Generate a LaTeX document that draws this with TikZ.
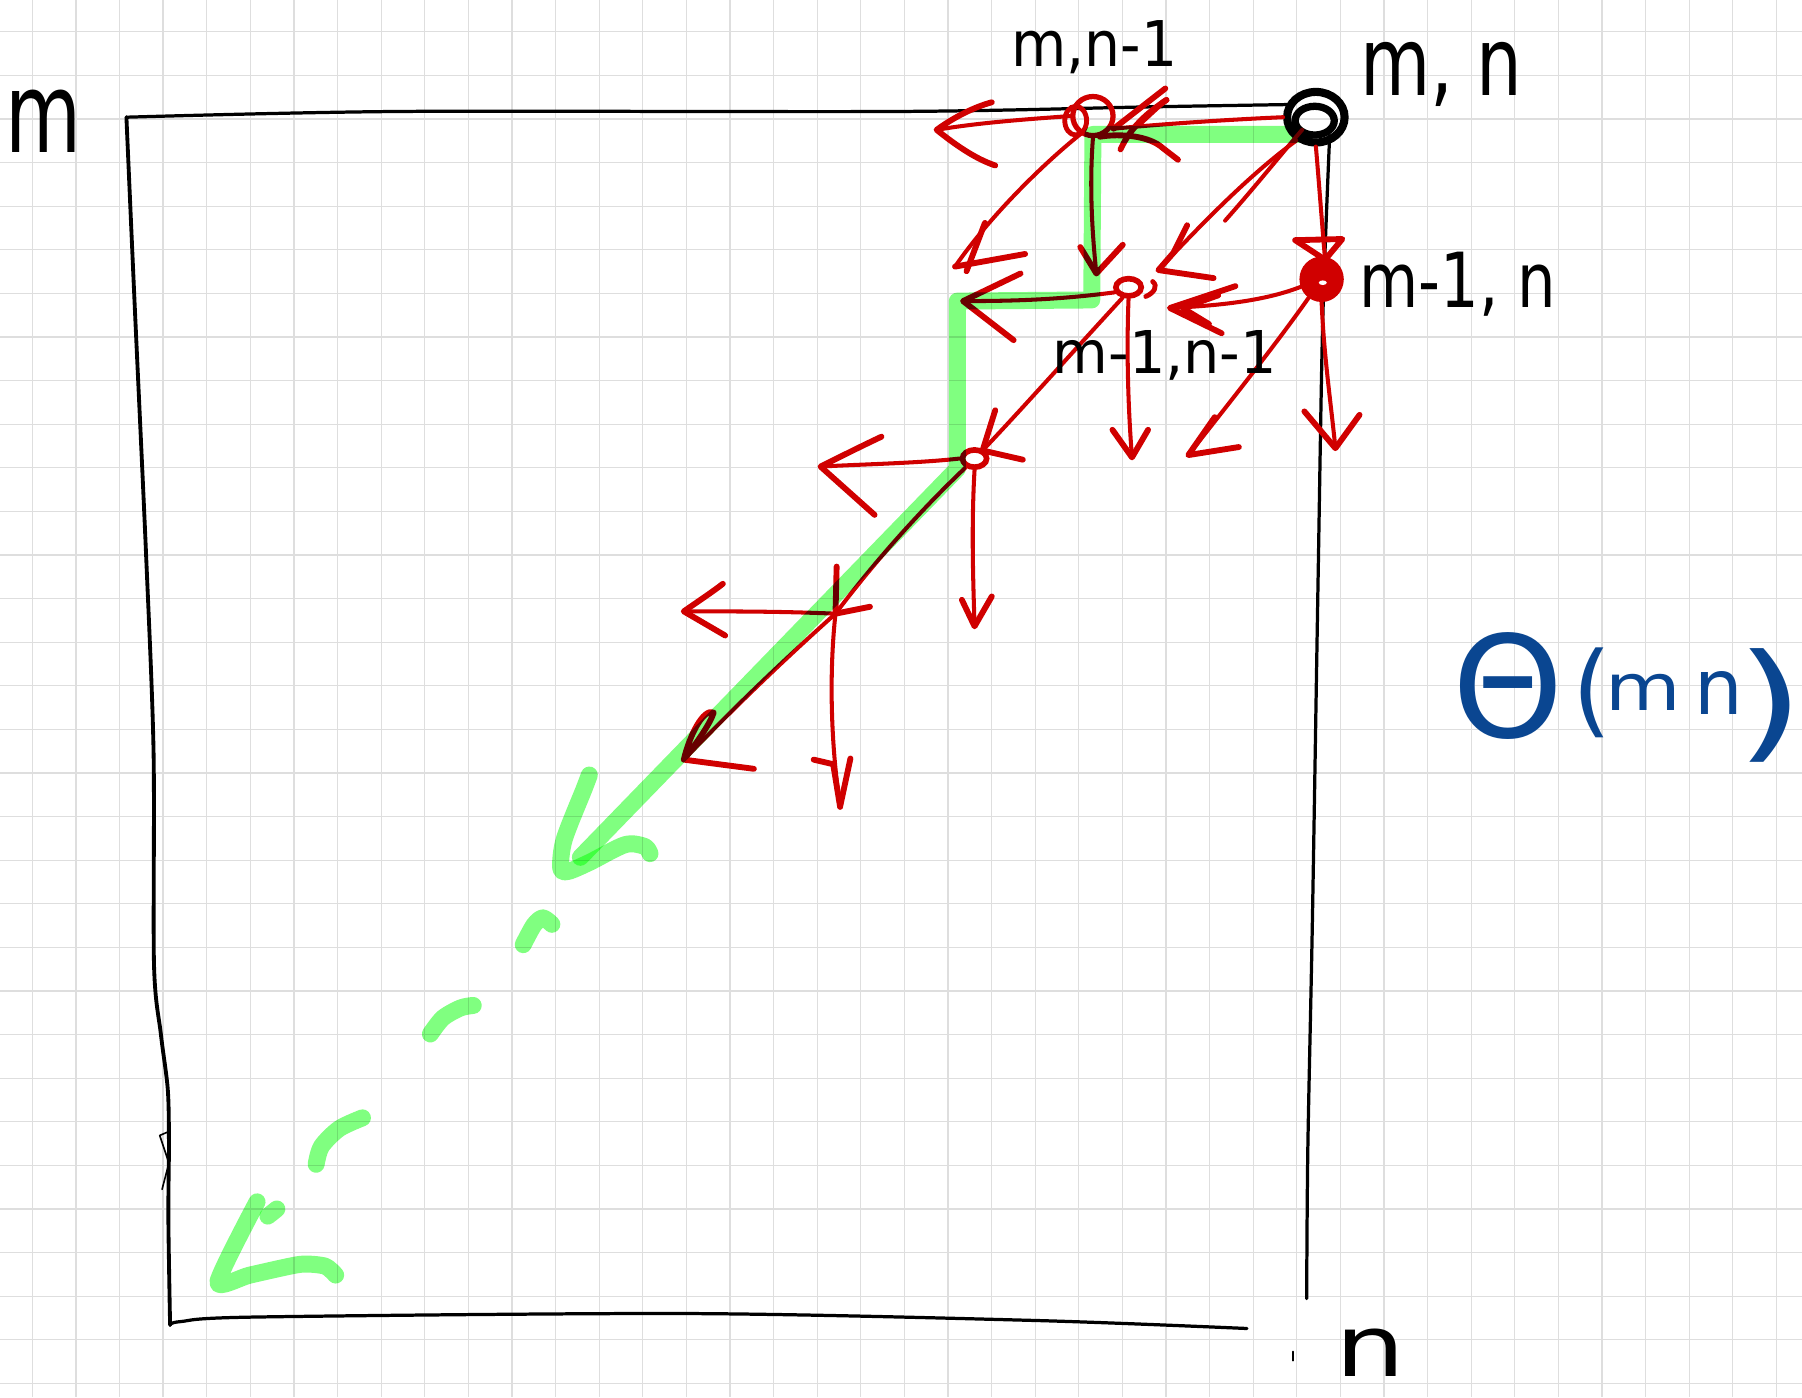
\documentclass[tikz,border=0pt]{standalone}
\usepackage{fontspec}
\setmainfont{DejaVu Sans}
\usetikzlibrary{shapes.geometric}
\definecolor{pen}{RGB}{208,0,0}
\definecolor{hl}{RGB}{128,255,128}
\definecolor{ink}{RGB}{10,70,145}
\definecolor{gridc}{RGB}{222,222,222}
\begin{document}
\begin{tikzpicture}[x=0.01cm,y=-0.01cm,
  rline/.style={draw=pen, line width=1.0pt, line cap=round, line join=round},
  rhead/.style={draw=pen, line width=1.45pt, line cap=round, line join=round},
  frame/.style={draw=black, line width=0.8pt, line cap=round, line join=round},
  hlpath/.style={draw=hl, line width=4.2pt, line cap=round, line join=round},
  lbl/.style={text=black, inner sep=0pt, outer sep=0pt, anchor=base west},
  gridline/.style={draw=gridc, line width=0.3pt},
  rnode/.style={draw=pen, ellipse, inner sep=0pt},
]
\useasboundingbox (0,0) rectangle (1568,1216);
\fill[white] (0,0) rectangle (1568,1216);
% grid
\foreach \i in {0,...,40} \draw[gridline] ({28.1+37.94*\i},0) -- ({28.1+37.94*\i},1216);
\foreach \j in {0,...,31} \draw[gridline] (0,{27.6+37.94*\j}) -- (1568,{27.6+37.94*\j});

% frame
\draw[frame] plot[smooth, tension=0.5] coordinates {(110,102) (348,97) (783,97) (1000,93) (1120,91)};
\draw[frame, line width=0.95pt] plot[smooth, tension=0.5] coordinates {(110,102) (117,261) (127,480) (133.6,653) (134,839) (140,900) (146,948) (147,995) (146.5,1060) (148,1153)};
\draw[frame] plot[smooth, tension=0.5] coordinates {(148,1153) (157,1150) (224,1146) (600,1143) (900,1149) (1085,1156)};
\draw[frame] plot[smooth, tension=0.5] coordinates {(1157,118) (1151,278) (1147,500) (1142,800) (1138,1000) (1137,1130)};
\draw[frame, line width=0.4pt] (146,985) -- (139,988) -- (147,1012) -- (141,1035);
\draw[frame, line width=0.4pt] (1125,1176) -- (1125,1184);

% nodes
\node[draw=black, line width=2pt, ellipse, minimum width=0.5cm, minimum height=0.44cm, inner sep=0pt] (A) at (1145,102) {};
\draw[black, line width=1.8pt] (1144,105) ellipse [x radius=0.17cm, y radius=0.125cm];
\node[rnode, line width=1.3pt, minimum width=0.35cm, minimum height=0.34cm] (B) at (951,101) {};
\draw[pen, line width=1.2pt] (936,105) ellipse [x radius=0.095cm, y radius=0.125cm];
\node[rnode, fill=pen, line width=1.3pt, minimum width=0.34cm, minimum height=0.35cm] (C) at (1150,243) {};
\fill[white] (1151,246) ellipse [x radius=0.035cm, y radius=0.02cm];
\node[rnode, line width=1.4pt, minimum width=0.22cm, minimum height=0.15cm] (D) at (982,250) {};
\draw[pen, line width=1.2pt, line cap=round] (1003,245) .. controls (1008,249) and (1004,255) .. (997,258);
\node[rnode, line width=1.4pt, minimum width=0.21cm, minimum height=0.15cm] (E) at (848,399) {};
\coordinate (F) at (727,534);

% A -> B
\coordinate (tAB) at (969,112);
\draw[rline] (A.west) .. controls (1070,104) and (1010,108) .. (tAB);
\draw[rhead] (1014,77) -- (tAB);
\draw[rhead] (1015,87) .. controls (1003,95) and (985,108) .. (975,130);
\draw[rhead] (992,107) .. controls (1003,97) and (1011,89) .. (1015,87);
\draw[rhead] (957,119) .. controls (975,116) and (1000,118) .. (1012,129) -- (1025,139);
% A -> D
\coordinate (tAD) at (1008,235);
\draw[rline] (A.230) .. controls (1090,150) and (1050,190) .. (tAD);
\draw[rline] (1133,113) .. controls (1110,140) and (1090,165) .. (1066,192);
\draw[rhead] (1033,196) -- (1021,220) -- (tAD) -- (1056,242);
% A -> C
\coordinate (tAC) at (1153,226);
\draw[rline] (A.south) .. controls (1147,150) and (1150,190) .. (tAC);
\draw[rhead] (1127,209) -- (1168,208) -- (tAC) -- cycle;
% B -> left
\coordinate (tBL) at (815,113);
\draw[rline] (B.west) .. controls (890,104) and (850,107) .. (tBL);
\draw[rhead] (863,89) .. controls (848,93) and (830,102) .. (tBL) .. controls (830,125) and (848,138) .. (866,144);
% B -> down-left
\coordinate (tBDL) at (831,232);
\draw[rline] (B.235) .. controls (905,145) and (860,190) .. (tBDL);
\draw[rhead] (857,194) -- (841,236);
\draw[rhead] (tBDL) -- (892,221);
% B -> D
\coordinate (tBD) at (954,238);
\draw[rline] (B.south) .. controls (948,160) and (950,200) .. (tBD);
\draw[rhead] (940,215) -- (tBD) -- (977,213);
% C -> D
\coordinate (tCD) at (1018,268);
\draw[rline] (C.200) .. controls (1100,262) and (1060,266) .. (tCD);
\draw[rhead] (1075,249) -- (tCD) -- (1063,290);
\draw[rhead] (1060,257) -- (1029,268) -- (1052,282);
% C -> down-left
\coordinate (tCDL) at (1034,396);
\draw[rline] (C.235) .. controls (1110,300) and (1070,350) .. (tCDL);
\draw[rhead] (1057,363) -- (tCDL) -- (1078,389);
% C -> down
\coordinate (tCDn) at (1162,390);
\draw[rline] (C.south) .. controls (1152,310) and (1158,350) .. (tCDn);
\draw[rhead] (1135,358) -- (tCDn) -- (1183,361);
% D -> left
\coordinate (tDL) at (838,262);
\draw[rline] (D.200) .. controls (920,261) and (880,262) .. (tDL);
\draw[rhead] (888,238) -- (tDL) -- (882,296);
% D -> E
\coordinate (tDE) at (855,392);
\draw[rline] (D.240) .. controls (930,310) and (890,355) .. (tDE);
\draw[rhead] (866,357) -- (tDE) -- (890,400);
% D -> down
\coordinate (tDDn) at (985,398);
\draw[rline] (D.south) .. controls (980,310) and (982,360) .. (tDDn);
\draw[rhead] (968,374) -- (tDDn) -- (999,374);
% E -> left
\coordinate (tEL) at (714,406);
\draw[rline] (E.west) .. controls (800,403) and (750,404) .. (tEL);
\draw[rhead] (767,380) .. controls (750,388) and (730,398) .. (tEL) -- (761,448);
% E -> F
\draw[rline] (E.225) .. controls (800,445) and (760,490) .. (F);
\draw[rhead] (728,493) -- (F) -- (757,528);
% E -> down
\coordinate (tEDn) at (848,545);
\draw[rline] (E.south) .. controls (845,460) and (847,510) .. (tEDn);
\draw[rhead] (837,522) -- (tEDn) -- (863,519);
% F -> left
\coordinate (tFL) at (595,532);
\draw[rline] (F) .. controls (680,532) and (640,532) .. (tFL);
\draw[rhead] (629,508) .. controls (620,515) and (605,525) .. (tFL) -- (631,553);
% F -> down
\coordinate (tFDn) at (731,702);
\draw[rline] (F) .. controls (722,580) and (722,640) .. (tFDn);
\draw[rhead] (708,661) -- (725,665) -- (tFDn);
\draw[rhead] (740,660) -- (tFDn);
% F -> down-left
\coordinate (tFDL) at (595,661);
\draw[rline] (F) .. controls (670,585) and (630,625) .. (tFDL);
\draw[rhead] (tFDL) .. controls (605,648) and (618,630) .. (621,620) .. controls (612,616) and (600,640) .. (tFDL) -- (656,669);

% labels
\node[lbl] (lM) at (5,133) {\scalebox{0.7}[1]{\fontsize{27.6pt}{28pt}\selectfont m}};
\node[lbl] (lB) at (880,58) {\scalebox{0.9}[1]{\fontsize{15.6pt}{16pt}\selectfont m,n-1}};
\node[lbl] (lA) at (1184,83) {\scalebox{0.76}[1]{\fontsize{23.5pt}{24pt}\selectfont m, n}};
\node[lbl] (lC) at (1183,268) {\scalebox{0.8}[1]{\fontsize{18.8pt}{19pt}\selectfont m-1, n}};
\node[lbl] (lD) at (916,325) {\scalebox{0.97}[1]{\fontsize{14.6pt}{15pt}\selectfont m-1,n-1}};
\node[lbl] (ln) at (1162,1198) {\scalebox{1.3}[1]{\fontsize{21pt}{21pt}\selectfont n}};
\node[lbl, text=ink] (theta) at (1264,642) {%
\makebox[29.6pt][l]{\fontsize{35pt}{35pt}\selectfont Θ}%
\makebox[8.2pt][l]{\raisebox{3.4pt}{\fontsize{25pt}{25pt}\selectfont (}}%
\makebox[22pt][l]{\raisebox{6.8pt}{\scalebox{1.2}[1]{\fontsize{16pt}{16pt}\selectfont m}}}%
\makebox[10.3pt][l]{\raisebox{5.7pt}{\fontsize{19pt}{19pt}\selectfont n}}%
\raisebox{-2pt}{\scalebox{1.4}[1]{\fontsize{31.6pt}{32pt}\selectfont )}}};

% green highlight path (multiply)
\begin{scope}[blend mode=multiply]
\draw[hlpath] (1129,117) -- (951,117) -- (950,261) -- (833,262) -- (833,408) -- (505,746);
\draw[hlpath] plot[smooth, tension=0.5] coordinates {(512.8,674.4) (508.1,686.8) (491,730.3) (487.9,755.2) (494.2,758.3) (512.8,750.5) (543.9,735) (560.9,736.5) (565.6,742.8)};
\draw[hlpath] plot[smooth, tension=0.5] coordinates {(455.3,822) (464.6,804.9) (472.4,798.7) (480.2,804.3)};
\draw[hlpath] plot[smooth, tension=0.5] coordinates {(374.5,899.7) (385.4,885.8) (400.9,877) (411.8,874.9)};
\draw[hlpath] plot[smooth, tension=0.5] coordinates {(275.1,1013.1) (279.7,997.6) (295.2,982.1) (315.4,972.7)};
\draw[hlpath] (233.1,1058.2) -- (240.9,1052);
\draw[hlpath] plot[smooth, tension=0.4] coordinates {(223.7,1045.8) (189.6,1115.6) (217.5,1109.5) (261,1100.2) (282.8,1101.7) (292.1,1109.5)};
\end{scope}
\end{tikzpicture}
\end{document}
